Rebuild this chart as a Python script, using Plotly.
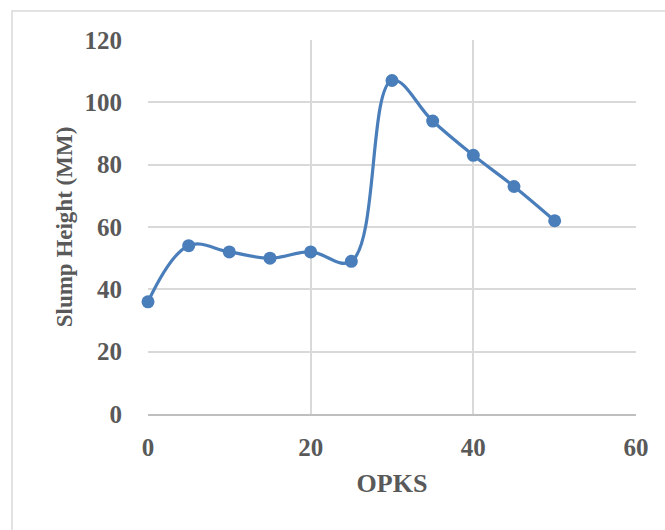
import plotly.graph_objects as go

opks = [0, 5, 10, 15, 20, 25, 30, 35, 40, 45, 50]
slump = [36, 54, 52, 50, 52, 49, 107, 94, 83, 73, 62]
x_ticks = [0, 20, 40, 60]
y_ticks = [0, 20, 40, 60, 80, 100, 120]

W, H = 665, 530
L, R, T, B = 148, 29, 40, 116

fam = "Liberation Serif, Times New Roman, serif"
tick_font = dict(family=fam, size=25, color="#595959", weight="bold")
xtitle_font = dict(family=fam, size=26, color="#595959", weight="bold")
ytitle_font = dict(family=fam, size=23, color="#595959", weight="bold")

fig = go.Figure()
fig.add_trace(go.Scatter(
    x=opks, y=slump, mode="lines+markers",
    line=dict(color="#4a7ebb", width=3.2, shape="spline", smoothing=1.1),
    marker=dict(color="#4a7ebb", size=13),
    showlegend=False, cliponaxis=False,
))

fig.update_layout(
    width=W, height=H,
    margin=dict(l=L, r=R, t=T, b=B),
    paper_bgcolor="white", plot_bgcolor="white",
    font=tick_font,
    xaxis=dict(
        range=[0, 60], tickvals=x_ticks, showgrid=True, gridcolor="#d9d9d9", gridwidth=1.5,
        zeroline=False, showline=True, linecolor="#bfbfbf", linewidth=1.5, mirror=False,
        ticks="", ticklabelstandoff=10, tickfont=tick_font,
        title=dict(text="OPKS", font=xtitle_font, standoff=14),
        fixedrange=True,
    ),
    yaxis=dict(
        range=[0, 120], tickvals=y_ticks, showgrid=True, gridcolor="#d9d9d9", gridwidth=1.5,
        zeroline=False, showline=False,
        ticks="", ticklabelstandoff=25, tickfont=tick_font,
        title=dict(text="Slump Height (MM)", font=ytitle_font, standoff=5),
        fixedrange=True,
    ),
    shapes=[dict(
        type="rect", xref="paper", yref="paper",
        x0=(12 - L) / (W - L - R), x1=(W + 20 - L) / (W - L - R),
        y0=-(H + 20 - T - (H - T - B)) / (H - T - B), y1=(H - 11 - B) / (H - T - B),
        line=dict(color="#d9d9d9", width=1.5), layer="below",
    )],
)

fig.write_html("out.html")
